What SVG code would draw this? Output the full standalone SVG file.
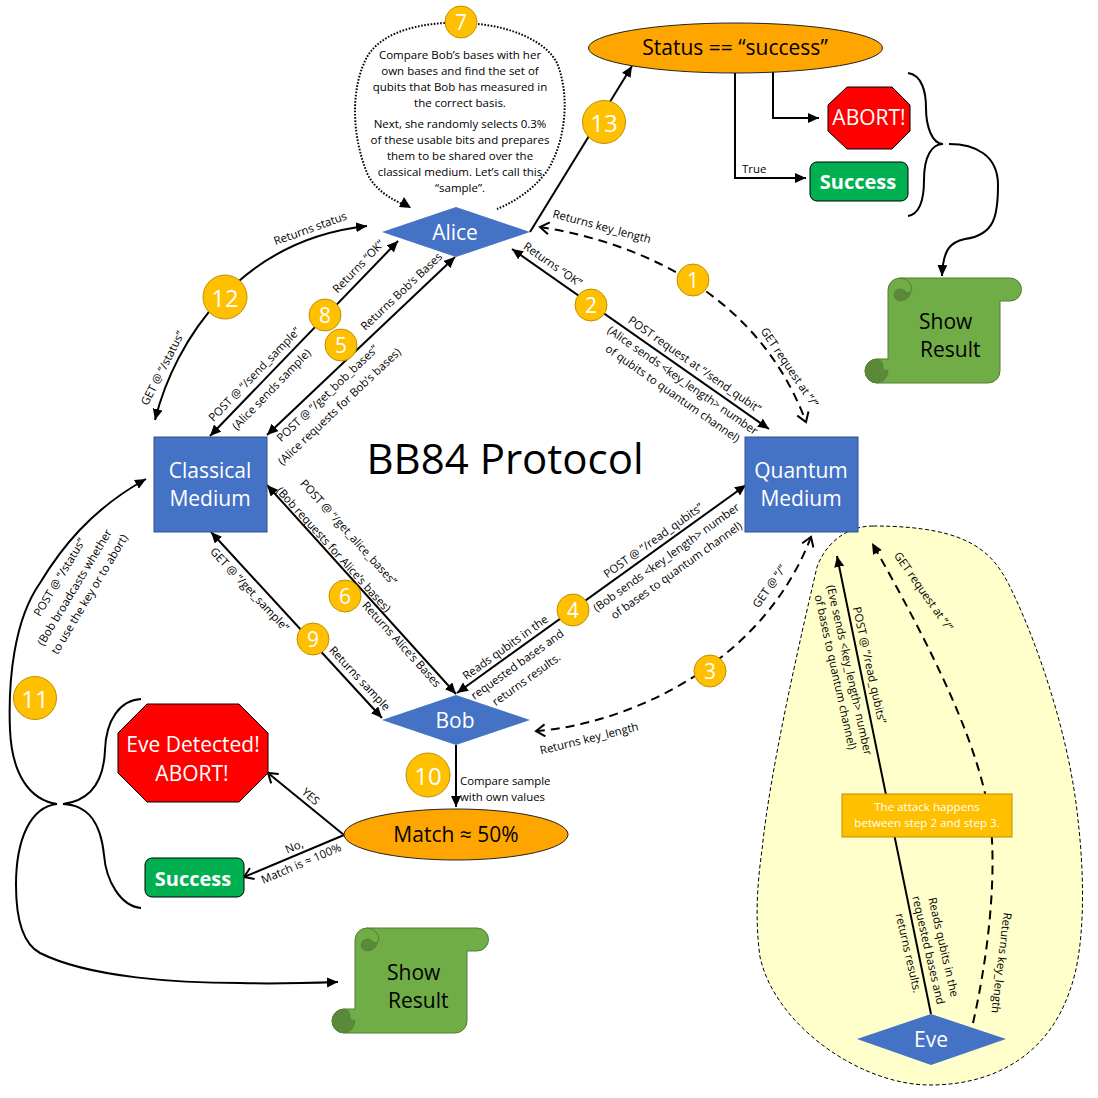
<svg xmlns="http://www.w3.org/2000/svg" width="1098" height="1098" viewBox="0 0 1098 1098">
<style>
text{font-family:"Open Sans","Noto Sans",sans-serif;fill:#000;text-anchor:middle;dominant-baseline:central}
.l{font-size:11.4px}
.big{font-size:21px}
.w{fill:#fff}
.sc{font-size:21px;text-anchor:start}
.bold{font-size:20px;font-weight:700;fill:#fff}
.c{stroke-width:2;fill:none;stroke:#000}
.a{marker-end:url(#fe)}
.b{marker-end:url(#fe);marker-start:url(#fe)}
.d{stroke-dasharray:9 6}
.o{marker-end:url(#oe);marker-start:url(#oe)}
.dot{stroke-dasharray:1.6 1.6;stroke-width:2;fill:none;stroke:#000}
.blue{fill:#4472C4;stroke:none}
.sq{fill:#4472C4;stroke:#2F528F;stroke-width:1}
.num circle{fill:#FFC000;stroke:#BF9000;stroke-width:1}
.org{fill:#FFA500;stroke:#222;stroke-width:1}
.stop{fill:#F00;stroke:#000;stroke-width:1}
.ok{fill:#00B050;stroke:#000;stroke-width:1}
</style>
<defs>
<marker id="fe" markerUnits="userSpaceOnUse" markerWidth="12" markerHeight="11" refX="11" refY="5" orient="auto-start-reverse"><path d="M0 0L11 5L0 10Z"/></marker>
<marker id="oe" markerUnits="userSpaceOnUse" markerWidth="14" markerHeight="14" refX="12" refY="7" orient="auto-start-reverse"><path d="M3 1L12 7L3 13" fill="none" stroke="#000" stroke-width="2"/></marker>
<g id="scroll">
<path d="M23 81V12A12 12 0 0 1 35 0H145A11.5 11.5 0 0 1 145 23H135V93A12 12 0 0 1 123 105H12A12 12 0 0 1 12 81Z" fill="#70AD47" stroke="#507E32"/>
<path d="M35 23A6 6 0 0 1 35 11C40 11 41 14 40 15C43 12 46 18 46 12A11 11 0 0 1 35 23Z" fill="#5A8A39" stroke="#507E32" stroke-width=".6"/>
<path d="M35 0A12 12 0 0 1 47 12" fill="none" stroke="#507E32"/>
<path d="M12 81A12 12 0 0 0 12 105A12 12 0 0 0 23 93V92C20 93 18 92 18 88C18 84 15 81 12 81Z" fill="#5A8A39" stroke="#507E32" stroke-width=".6"/>
</g>
</defs>
<g id="eve-zone"><path d="M873 526C845 526 825 545 817 567C800 640 770 770 762 850C757 885 755 920 760 957C775 1025 860 1085 930 1085C1000 1085 1050 1050 1070 990C1085 950 1085 880 1078 820C1070 740 1040 650 1013 593C995 555 975 526 873 526Z" fill="#FFFFCC" stroke="#000" stroke-width="1" stroke-dasharray="4 2.5"/></g>
<g id="connectors">
<path class="c a" d="M530 232L632 66"/>
<path class="c a" d="M735 72V178H806"/>
<path class="c a" d="M773 72V118H819"/>
<path class="c" d="M908 73C922 75 926 92 926 108C926 126 932 144 943 144C932 144 924 156 924 180C924 200 920 214 908 216"/>
<path class="c a" d="M949 144C975 144 998 155 998 185C998 215 995 235 965 239C950 242 943 250 942 276"/>
<path class="c d o" d="M540 227C625 240 755 285 806 422"/>
<path class="c b" d="M512 249L769 429"/>
<path class="c b" d="M398 241L210 436"/>
<path class="c b" d="M455 257L267 435"/>
<path class="c b" d="M155 420C175 340 240 240 367 226"/>
<path class="c b" d="M267 485L456 694"/>
<path class="c b" d="M211 532L382 718"/>
<path class="c b" d="M746 485L457 693"/>
<path class="c d o" d="M536 731C620 725 760 670 811 537"/>
<path class="c a" d="M456 745V807"/>
<path class="c" d="M344 835L268 773" marker-end="url(#oe)"/>
<path class="c" d="M344 835L244 877" marker-end="url(#oe)"/>
<path class="c" d="M141 699C120 700 106 720 105 750C104 775 95 800 63 804C90 805 101 825 104 855C106 880 120 906 141 908"/>
<path class="c a" d="M57 804C30 800 12 775 10 730C8 680 14 620 40 583C60 550 90 510 146 479"/>
<path class="c a" d="M57 804C30 807 16 840 16 885C16 925 25 945 40 953C90 978 180 983 240 983C270 984 310 983 338 982"/>
<path class="c a" d="M931 1014L837 556"/>
<path class="c d a" d="M973 1023C985 970 995 900 992 840C988 770 950 680 872 543"/>
<path class="dot" d="M445 23C410 25 380 35 367 57C352 85 350 130 367 173C375 190 390 198 402 204"/>
<path d="M411 208L399 207L404 197Z"/>
<path class="dot" d="M478 24C510 27 545 40 557 63C570 95 565 135 553 160C545 180 520 200 497 209"/>
</g>
<g id="connector-labels" class="l">
<text transform="translate(602 226) rotate(15)">Returns key_length</text>
<text transform="translate(790 367) rotate(56)">GET request at “/”</text>
<text transform="translate(553 264) rotate(35)">Returns “OK”</text>
<text transform="translate(695 364) rotate(35)">POST request at “/send_qubit”</text>
<text transform="translate(683 380) rotate(35)">(Alice sends &lt;key_length&gt; number</text>
<text transform="translate(673 393) rotate(35)">of qubits to quantum channel)</text>
<text transform="translate(310 228) rotate(-20)">Returns status</text>
<text transform="translate(162 368) rotate(-63)">GET @ “/status”</text>
<text transform="translate(358 266) rotate(-46)">Returns “OK”</text>
<text transform="translate(254 374) rotate(-46)">POST @ “/send_sample”</text>
<text transform="translate(271 389) rotate(-46)">(Alice sends sample)</text>
<text transform="translate(401 291) rotate(-43.4)">Returns Bob’s Bases</text>
<text transform="translate(327 393) rotate(-43.4)">POST @ “/get_bob_bases”</text>
<text transform="translate(339 406) rotate(-43.4)">(Alice requests for Bob’s bases)</text>
<text transform="translate(349 532) rotate(47.9)">POST @ “/get_alice_bases”</text>
<text transform="translate(334 549) rotate(47.9)">(Bob requests for Alice’s bases)</text>
<text transform="translate(402 644) rotate(47.9)">Returns Alice’s Bases</text>
<text transform="translate(250 589) rotate(47)">GET @ “/get_sample”</text>
<text transform="translate(360 678) rotate(47)">Returns sample</text>
<text transform="translate(505 647) rotate(-35.7)">Reads qubits in the</text>
<text transform="translate(517 664) rotate(-35.7)">requested bases and</text>
<text transform="translate(526 679) rotate(-35.7)">returns results.</text>
<text transform="translate(653 540) rotate(-35.7)">POST @ “/read_qubits”</text>
<text transform="translate(666 557) rotate(-35.7)">(Bob sends &lt;key_length&gt; number</text>
<text transform="translate(676 570) rotate(-35.7)">of bases to quantum channel)</text>
<text transform="translate(769 586) rotate(-55)">GET @ “/”</text>
<text transform="translate(589 738) rotate(-14)">Returns key_length</text>
<text transform="translate(870 665) rotate(77.5)">POST @ “/read_qubits”</text>
<text transform="translate(850 670) rotate(77.5)">(Eve sends &lt;key_length&gt; number</text>
<text transform="translate(836 672) rotate(77.5)">of bases to quantum channel)</text>
<text transform="translate(924 591) rotate(55)">GET request at “/”</text>
<text transform="translate(944 947) rotate(77)">Reads qubits in the</text>
<text transform="translate(929 950) rotate(77)">requested bases and</text>
<text transform="translate(909 953) rotate(77)">returns results.</text>
<text transform="translate(1002 963) rotate(97)">Returns key_length</text>
<text transform="translate(59 577) rotate(-59)">POST @ “/status”</text>
<text transform="translate(74 587) rotate(-59)">(Bob broadcasts whether</text>
<text transform="translate(89 594) rotate(-59)">to use the key or to abort)</text>
<text x="460" y="780" style="text-anchor:start">Compare sample</text>
<text x="460" y="796" style="text-anchor:start">with own values</text>
<text transform="translate(311 796) rotate(42)">YES</text>
<text transform="translate(294 846) rotate(-23)">No,</text>
<text transform="translate(301 863) rotate(-23)">Match is ≈ 100%</text>
<text x="742" y="168" style="text-anchor:start">True</text>
</g>
<g id="note" style="font-size:11.5px">
<text x="460" y="54">Compare Bob’s bases with her</text>
<text x="460" y="70">own bases and find the set of</text>
<text x="460" y="86">qubits that Bob has measured in</text>
<text x="460" y="102">the correct basis.</text>
<text x="460" y="123">Next, she randomly selects 0.3%</text>
<text x="460" y="139">of these usable bits and prepares</text>
<text x="460" y="155">them to be shared over the</text>
<text x="460" y="171">classical medium. Let’s call this</text>
<text x="460" y="187">“sample”.</text>
</g>
<text id="title" x="505" y="457" style="font-size:42px">BB84 Protocol</text>
<g id="alice"><path class="blue" d="M382 232L456 207L530 232L456 257Z"/><text class="big w" x="455" y="232">Alice</text></g>
<g id="bob"><path class="blue" d="M382 720L456 695L530 720L456 745Z"/><text class="big w" x="455" y="720">Bob</text></g>
<g id="eve"><path class="blue" d="M857 1039L931 1014L1006 1039L931 1065Z"/><text class="big w" x="931" y="1039">Eve</text></g>
<g id="classical"><rect class="sq" x="154" y="437" width="113" height="95"/><text class="big w" x="210" y="470">Classical</text><text class="big w" x="210" y="498">Medium</text></g>
<g id="quantum"><rect class="sq" x="745" y="437" width="113" height="95"/><text class="big w" x="801" y="470">Quantum</text><text class="big w" x="801" y="498">Medium</text></g>
<g id="status"><ellipse class="org" cx="735.5" cy="48" rx="147" ry="25"/><text x="735" y="47" style="font-size:21px">Status == “success”</text></g>
<g id="match"><ellipse class="org" cx="456" cy="834.5" rx="112" ry="25.5"/><text x="456" y="834" style="font-size:21px">Match ≈ 50%</text></g>
<g id="abort"><path class="stop" d="M847 87H892L910 105V131L892 149H847L828 131V105Z"/><text class="big w" x="869" y="117">ABORT!</text></g>
<g id="eve-detected"><path class="stop" d="M147 704H239L268 733V773L239 802H147L118 773V733Z"/><text class="big w" x="193" y="744">Eve Detected!</text><text class="big w" x="192" y="773">ABORT!</text></g>
<g id="success-top"><rect class="ok" x="810" y="162" width="98" height="39" rx="7"/><text class="bold" x="858" y="181">Success</text></g>
<g id="success-bottom"><rect class="ok" x="145" y="858" width="99" height="39" rx="7"/><text class="bold" x="193" y="878">Success</text></g>
<g id="result-top"><use href="#scroll" x="865" y="278"/><text class="sc" x="919" y="321">Show</text><text class="sc" x="920" y="349">Result</text></g>
<g id="result-bottom"><use href="#scroll" x="332" y="928"/><text class="sc" x="387" y="972">Show</text><text class="sc" x="388" y="1000">Result</text></g>
<g id="attack"><rect x="842" y="794" width="170" height="43" fill="#FFC000" stroke="#BF9000"/><text class="w" style="font-size:11.6px" x="927" y="806">The attack happens</text><text class="w" style="font-size:11.6px" x="927" y="822">between step 2 and step 3.</text></g>
<g id="steps" class="num">
<g id="s1"><circle cx="693" cy="280" r="16"/><text class="big w" x="693" y="280">1</text></g>
<g id="s2"><circle cx="591" cy="305" r="16"/><text class="big w" x="591" y="305">2</text></g>
<g id="s3"><circle cx="710" cy="671" r="16"/><text class="big w" x="710" y="671">3</text></g>
<g id="s4"><circle cx="573" cy="610" r="16"/><text class="big w" x="573" y="610">4</text></g>
<g id="s5"><circle cx="341" cy="345" r="16"/><text class="big w" x="341" y="345">5</text></g>
<g id="s6"><circle cx="345" cy="596" r="16"/><text class="big w" x="345" y="596">6</text></g>
<g id="s7"><circle cx="461" cy="22" r="16"/><text class="big w" x="461" y="22">7</text></g>
<g id="s8"><circle cx="325" cy="315" r="16"/><text class="big w" x="325" y="315">8</text></g>
<g id="s9"><circle cx="313" cy="639" r="16"/><text class="big w" x="313" y="639">9</text></g>
<g id="s10"><circle cx="428" cy="775" r="22"/><text class="w" style="font-size:24px" x="428" y="775">10</text></g>
<g id="s11"><circle cx="35" cy="698" r="21.5"/><text class="w" style="font-size:24px" x="35" y="698">11</text></g>
<g id="s12"><circle cx="225" cy="297" r="22"/><text class="w" style="font-size:24px" x="225" y="297">12</text></g>
<g id="s13"><circle cx="604" cy="122" r="21.5"/><text class="w" style="font-size:24px" x="604" y="122">13</text></g>
</g>
</svg>
